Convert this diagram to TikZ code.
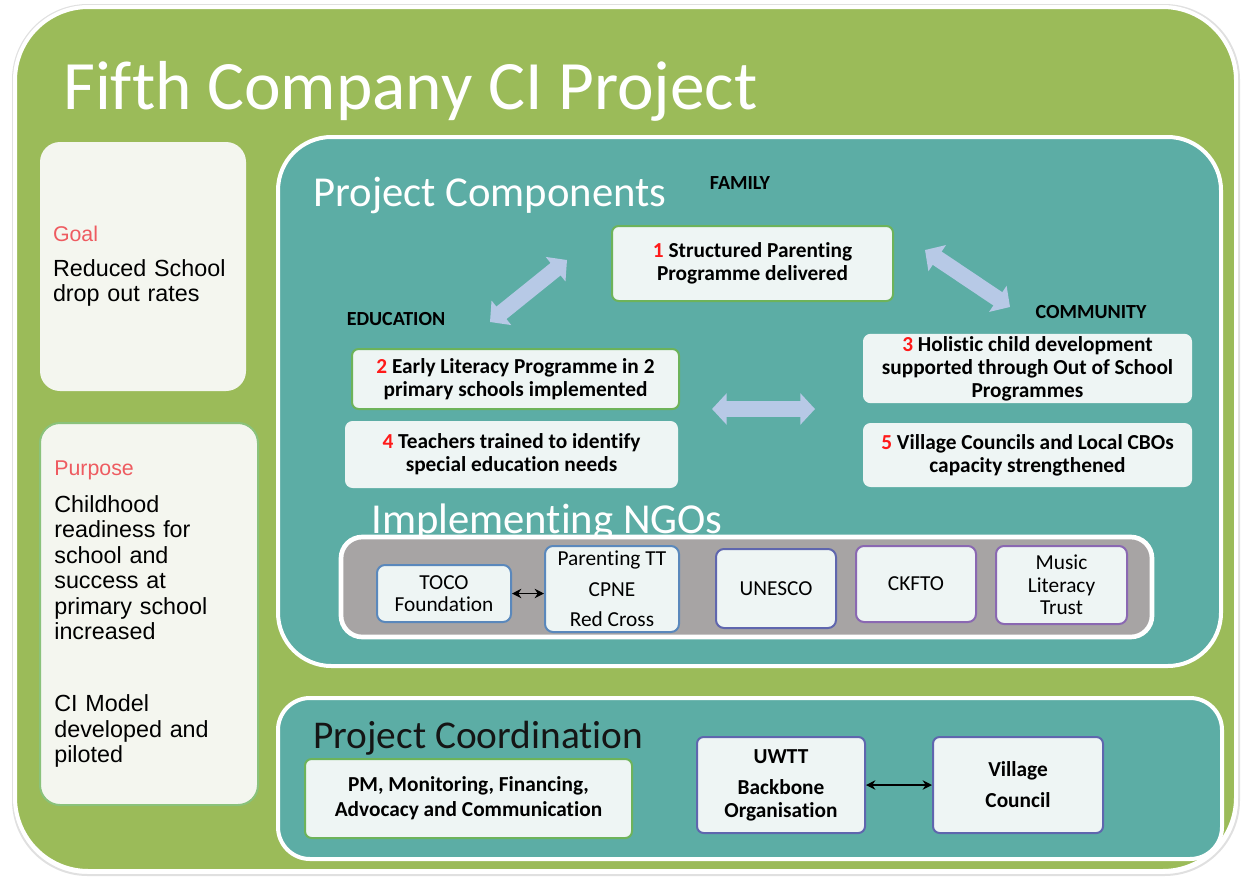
\documentclass[tikz,border=0pt]{standalone}
\usepackage{fontspec}
\setmainfont{Carlito}[Ligatures=NoCommon]
\newfontfamily\arialfont{Liberation Sans}
\usetikzlibrary{arrows.meta}

\definecolor{frameGreen}{HTML}{9BBB59}
\definecolor{panelTeal}{HTML}{5CADA5}
\definecolor{ngoGray}{HTML}{A7A4A4}
\definecolor{boxFill}{HTML}{EEF5F4}
\definecolor{sideFill}{HTML}{F4F6EF}
\definecolor{boxGreen}{HTML}{6DB35A}
\definecolor{boxBlue}{HTML}{5A88BC}
\definecolor{boxIndigo}{HTML}{5F66AE}
\definecolor{boxPurple}{HTML}{8A68B2}
\definecolor{numRed}{HTML}{FF1A1A}
\definecolor{labelRed}{HTML}{EE5B60}
\definecolor{arrowBlue}{HTML}{B7C9E6}
\definecolor{darkText}{HTML}{151515}

\tikzset{
  sidebox/.style={fill=sideFill, rounded corners=15pt, inner xsep=9.75pt, align=left,
    font=\arialfont\fontsize{17.5}{19.1}\selectfont},
  compbox/.style={draw=boxGreen, line width=1.5pt, fill=boxFill, rounded corners=5pt, inner sep=1pt,
    align=center, font=\fontsize{16}{17.3}\selectfont\bfseries},
  ngobox/.style={line width=1.5pt, fill=boxFill, rounded corners=6pt, inner sep=1pt,
    align=center, font=\fontsize{16}{17}\selectfont},
  catlabel/.style={font=\fontsize{15}{17}\selectfont\bfseries, text=black},
  heading/.style={anchor=base west, inner sep=0pt, font=\fontsize{32}{36}\selectfont},
  panel/.style={draw=white, line width=3pt, fill=panelTeal},
  fatarrow/.style={line width=12pt, draw=arrowBlue,
    {Triangle[length=11pt,width=23pt]}-{Triangle[length=11pt,width=23pt]}},
  smallarrow/.style={line width=1.4pt, black, {Stealth[length=7pt,width=7pt]}-{Stealth[length=7pt,width=7pt]}}
}

\begin{document}
\begin{tikzpicture}[x=0.75pt,y=0.75pt,yscale=-1,xscale=1]
\useasboundingbox (0,0) rectangle (1241,878);

%Outer frame
\draw [draw=black!12, line width=1.5pt, rounded corners=56pt] (13,5) rectangle (1239,875);
\draw [draw=white, line width=3pt, fill=frameGreen, rounded corners=55pt] (15,7) rectangle (1236,871);

% Text Node
\node (title) at (63,109) [anchor=base west, inner sep=0pt, text=white, font=\fontsize{52}{58}\selectfont] {Fifth Company CI Project};

%Side boxes
\node (goal) at (143,266.5) [sidebox, minimum width=154.5pt, minimum height=186.75pt, text width=135pt]
  {\textcolor{labelRed}{\fontsize{16}{18}\selectfont Goal}\\[7pt] Reduced School\\ drop out rates};
\node (purpose) at (149,614) [sidebox, draw=boxGreen!80, line width=1.5pt, minimum width=163.5pt, minimum height=286.5pt, text width=142pt]
  {\textcolor{labelRed}{\fontsize{16}{18}\selectfont Purpose}\\[8.6pt] Childhood\\ readiness for\\ school and\\ success at\\ primary school\\ increased\\[35pt] CI Model\\ developed and\\ piloted};

%Project Components panel
\draw [panel, rounded corners=40pt] (278,137) rectangle (1221,666);

% Text Node
\node (compTitle) at (313,206) [heading, text=white] {Project Components};
% Text Node
\node (family) at (740,183) [catlabel] {FAMILY};
% Text Node
\node (education) at (396,319) [catlabel] {EDUCATION};
% Text Node
\node (community) at (1091,312) [catlabel] {COMMUNITY};

%Component boxes
\node (parenting) at (752.5,263.5) [compbox, minimum width=210.75pt, minimum height=56.25pt] {{\color{numRed}1} Structured Parenting\\ Programme delivered};
\node (literacy) at (515.5,379) [compbox, minimum width=245.25pt, minimum height=45pt] {{\color{numRed}2} Early Literacy Programme in 2\\ primary schools implemented};
\node (teachers) at (511.5,454.5) [compbox, draw=boxFill, minimum width=248.25pt, minimum height=48.75pt] {{\color{numRed}4} Teachers trained to identify\\ special education needs};
\node (holistic) at (1027.5,368.5) [compbox, draw=boxFill, minimum width=245.25pt, minimum height=50.25pt] {{\color{numRed}3} Holistic child development\\ supported through Out of School\\ Programmes};
\node (councils) at (1027.5,455) [compbox, draw=boxFill, minimum width=245.25pt, minimum height=46.5pt] {{\color{numRed}5} Village Councils and Local CBOs\\ capacity strengthened};

%Fat arrows
\coordinate (famEduA) at (567,260);
\coordinate (famEduB) at (490,322);
\coordinate (famComA) at (925,250);
\coordinate (famComB) at (1010,307);
\coordinate (eduComA) at (712,409);
\coordinate (eduComB) at (815,409);
\draw [fatarrow] (famEduB) -- (famEduA);
\draw [fatarrow] (famComA) -- (famComB);
\draw [fatarrow] (eduComA) -- (eduComB);

% Text Node
\node (ngoTitle) at (371,533) [heading, text=white] {Implementing NGOs};

%NGO panel
\draw [draw=white, line width=3.5pt, fill=ngoGray, rounded corners=16pt] (341,537) rectangle (1152,637);

%NGO boxes
\node (toco) at (444,593.5) [ngobox, draw=boxBlue, minimum width=100.5pt, minimum height=42.75pt] {TOCO\\ Foundation};
\node (parentingTT) at (612,589) [ngobox, draw=boxBlue, minimum width=100.5pt, minimum height=64.5pt] {Parenting TT\\[6pt] CPNE\\[6pt] Red Cross};
\node (unesco) at (776,588.5) [ngobox, draw=boxIndigo, minimum width=90pt, minimum height=59.25pt] {UNESCO};
\node (ckfto) at (916,584) [ngobox, draw=boxPurple, minimum width=90pt, minimum height=57pt] {CKFTO};
\node (music) at (1061.5,585) [ngobox, draw=boxPurple, minimum width=98.25pt, minimum height=58.5pt] {Music\\ Literacy\\ Trust};
\draw [smallarrow] (toco.east) -- (toco.east -| parentingTT.west);

%Project Coordination panel
\draw [panel, rounded corners=24pt] (278,698) rectangle (1222,859);

% Text Node
\node (coordTitle) at (313,748) [heading, text=darkText, font=\fontsize{29.5}{34}\selectfont] {Project Coordination};

%Coordination boxes
\node (pm) at (468.5,798.5) [compbox, minimum width=245.25pt, minimum height=59.25pt, font=\fontsize{16}{18.75}\selectfont\bfseries] {PM, Monitoring, Financing,\\ Advocacy and Communication};
\node (uwtt) at (781,785) [compbox, draw=boxIndigo, minimum width=126pt, minimum height=72pt] {UWTT\\[6pt] Backbone\\ Organisation};
\node (village) at (1018,785) [compbox, draw=boxIndigo, minimum width=127.5pt, minimum height=72pt] {Village\\[6pt] Council};
\draw [smallarrow] (uwtt) -- (village);

\end{tikzpicture}
\end{document}
